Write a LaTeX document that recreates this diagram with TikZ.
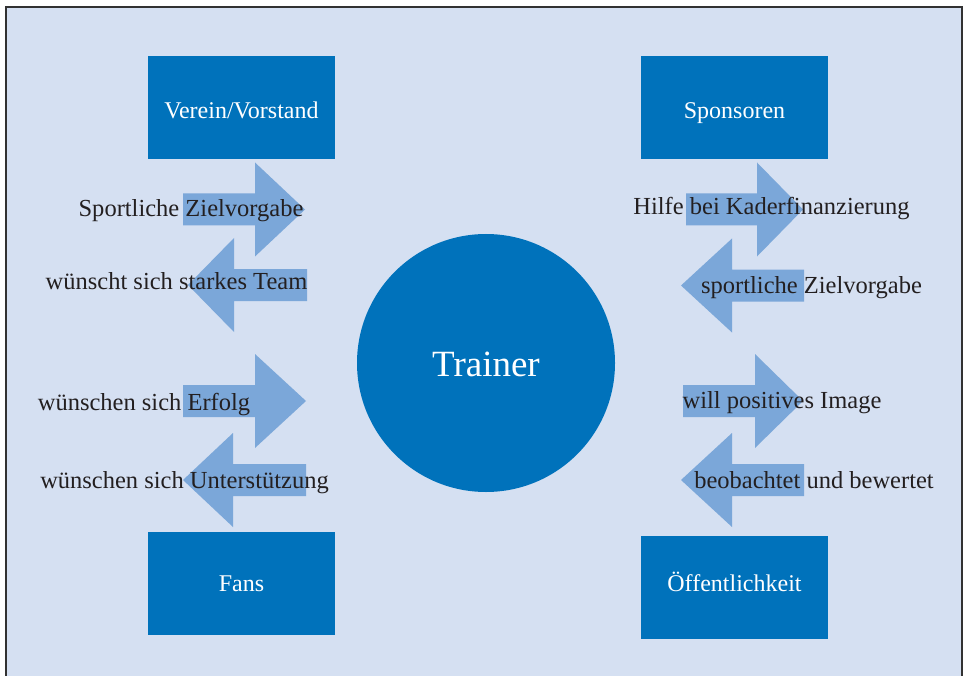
\documentclass[tikz,border=0pt]{standalone}
\usepackage{fontspec}
\setmainfont{Liberation Serif}
\definecolor{bgblue}{RGB}{213,224,242}
\definecolor{boxblue}{RGB}{0,114,187}
\definecolor{arrblue}{RGB}{123,167,217}
\definecolor{txtgray}{RGB}{35,31,32}
\definecolor{framegray}{RGB}{50,50,50}
\newcommand\rarw[4]{% x0, base, tip, y
  \fill[arrblue] (#1,{#4-16}) -- (#2,{#4-16}) -- (#2,{#4-47}) -- (#3,#4) -- (#2,{#4+47}) -- (#2,{#4+16}) -- (#1,{#4+16}) -- cycle;}
\newcommand\larw[4]{% tip, base, x1, y
  \fill[arrblue] (#1,#4) -- (#2,{#4-47}) -- (#2,{#4-16}) -- (#3,{#4-16}) -- (#3,{#4+16}) -- (#2,{#4+16}) -- (#2,{#4+47}) -- cycle;}
\tikzset{
  party/.style={fill=boxblue, text=white, minimum width=187pt, minimum height=103pt, inner sep=0pt, text depth=0pt, font=\fontsize{24}{28}\selectfont},
  lbl/.style={text=txtgray, anchor=base, inner sep=0pt, font=\fontsize{24.5}{29}\selectfont},
}
\begin{document}
\begin{tikzpicture}[x=1pt,y=-1pt]
\useasboundingbox (0,0) rectangle (963,676);
\begin{scope}
\clip (0,0) rectangle (963,676);
\fill[bgblue] (6,7) rectangle (962,700);
\draw[framegray, line width=2pt] (6,7) rectangle (962,700);
\end{scope}
% parties
\node[party, text height=23pt] (verein) at (241.5,107.5) {Verein/Vorstand};
\node[party, text height=23pt] (sponsoren) at (734.5,107.5) {Sponsoren};
\node[party, text height=16pt] (fans) at (241.5,583.5) {Fans};
\node[party, text height=7pt] (oeff) at (734.5,587.5) {Öffentlichkeit};
\node[circle, fill=boxblue, text=white, minimum size=258pt, inner sep=0pt, text height=26pt, text depth=0pt, font=\fontsize{37}{44}\selectfont] (trainer) at (486,363) {Trainer};
% arrows
\rarw{183}{255}{305}{209.5}
\larw{188}{234}{307}{285}
\rarw{183}{255}{306}{401}
\larw{183}{233}{306}{480}
\rarw{686}{757}{803}{209.5}
\larw{681}{732}{804}{285.5}
\rarw{683}{755}{803}{401}
\larw{681}{732}{804}{480}
% labels
\node[lbl] (l1) at (191,217) {Sportliche Zielvorgabe};
\node[lbl] (l2) at (176.5,289) {wünscht sich starkes Team};
\node[lbl] (l3) at (144,410) {wünschen sich Erfolg};
\node[lbl] (l4) at (184.5,488) {wünschen sich Unterstützung};
\node[lbl] (r1) at (771.5,215) {Hilfe bei Kaderfinanzierung};
\node[lbl] (r2) at (811.5,293) {sportliche Zielvorgabe};
\node[lbl] (r3) at (782,408) {will positives Image};
\node[lbl] (r4) at (814,488) {beobachtet und bewertet};
\end{tikzpicture}
\end{document}
